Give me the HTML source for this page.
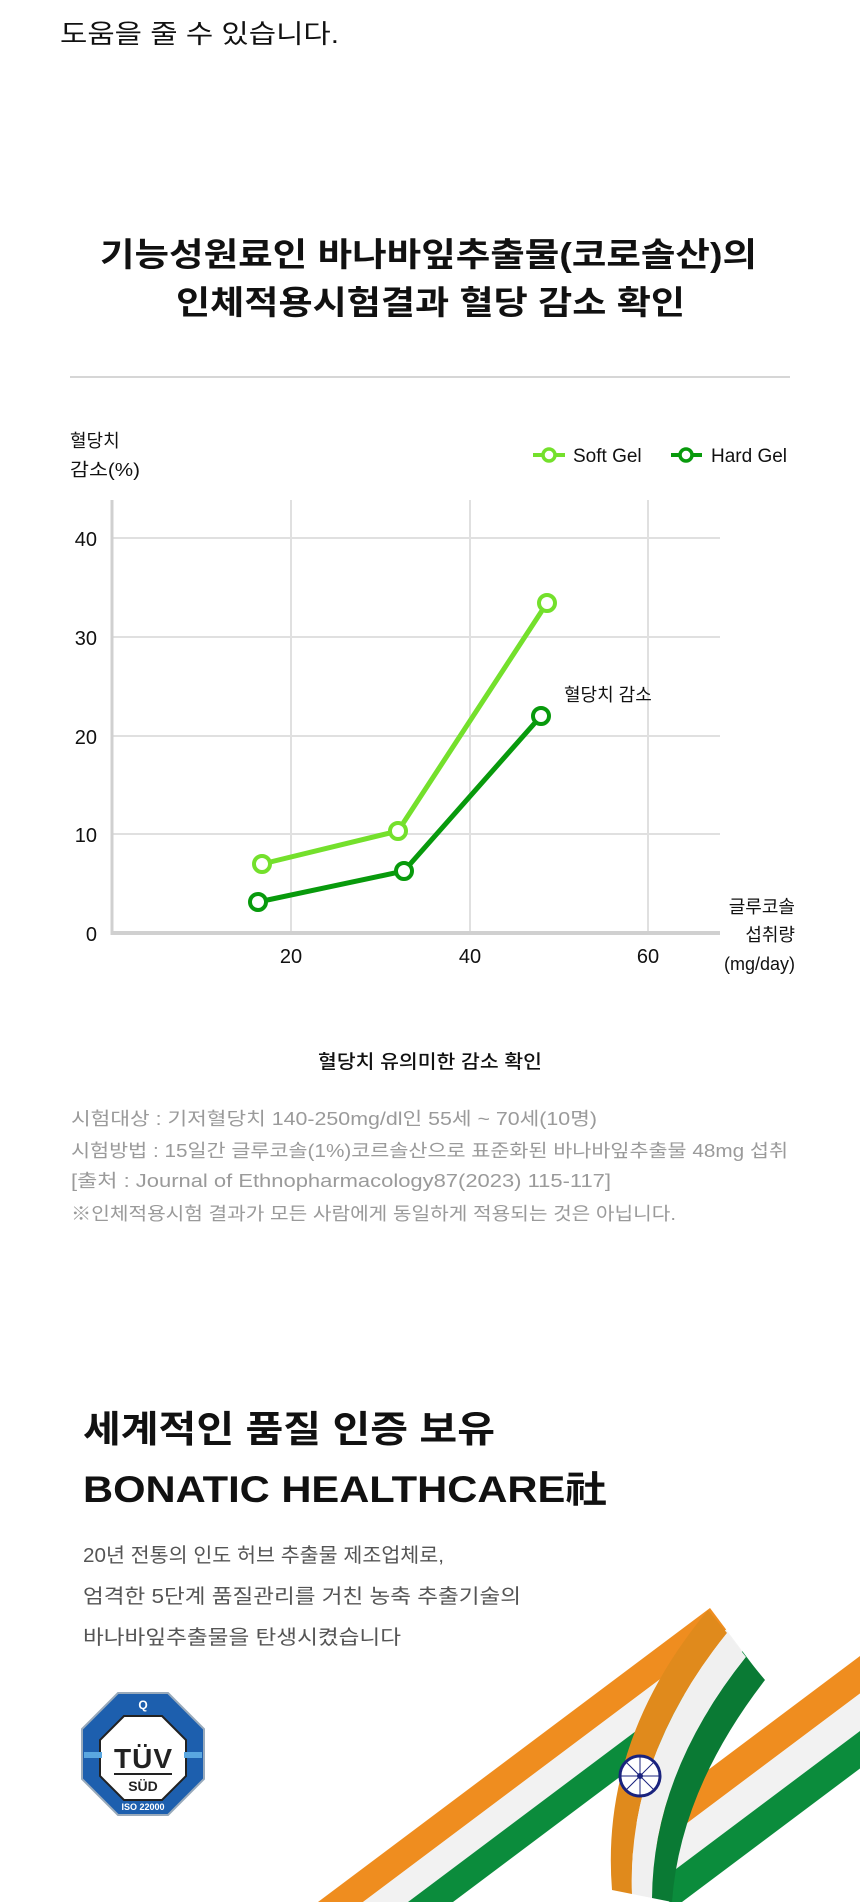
<!DOCTYPE html>
<html><head><meta charset="utf-8"><style>
html,body{margin:0;padding:0;background:#fff;overflow:hidden;}
svg{display:block;}
text{font-family:"Liberation Sans","Noto Sans CJK KR",sans-serif;}
</style></head><body>
<svg width="860" height="1902" viewBox="0 0 860 1902" xmlns="http://www.w3.org/2000/svg">
<text x="60" y="43" font-size="26" fill="#111" textLength="279" lengthAdjust="spacingAndGlyphs">도움을 줄 수 있습니다.</text>
<text x="100" y="266" font-size="33" font-weight="bold" fill="#111" textLength="657" lengthAdjust="spacingAndGlyphs">기능성원료인 바나바잎추출물(코로솔산)의</text>
<text x="176" y="314" font-size="33" font-weight="bold" fill="#111" textLength="509" lengthAdjust="spacingAndGlyphs">인체적용시험결과 혈당 감소 확인</text>
<rect x="70" y="376" width="720" height="2" fill="#d6d6d6"/>

<!-- chart -->
<text x="70" y="447" font-size="18" fill="#111">혈당치</text>
<text x="70" y="476" font-size="18" fill="#111" textLength="70" lengthAdjust="spacingAndGlyphs">감소(%)</text>
<g stroke="#e0e0e0" stroke-width="2">
<line x1="112" y1="538" x2="720" y2="538"/><line x1="112" y1="637" x2="720" y2="637"/>
<line x1="112" y1="736" x2="720" y2="736"/><line x1="112" y1="834" x2="720" y2="834"/>
<line x1="291" y1="500" x2="291" y2="933"/><line x1="470" y1="500" x2="470" y2="933"/><line x1="648" y1="500" x2="648" y2="933"/>
</g>
<line x1="112" y1="500" x2="112" y2="935" stroke="#d0d0d0" stroke-width="3"/>
<line x1="111" y1="933" x2="720" y2="933" stroke="#d0d0d0" stroke-width="4"/>
<g font-size="20" fill="#111" text-anchor="end">
<text x="97" y="546">40</text><text x="97" y="645">30</text><text x="97" y="744">20</text><text x="97" y="842">10</text><text x="97" y="941">0</text>
</g>
<g font-size="20" fill="#111" text-anchor="middle">
<text x="291" y="963">20</text><text x="470" y="963">40</text><text x="648" y="963">60</text>
</g>
<g font-size="18" fill="#111" text-anchor="end">
<text x="795" y="913">글루코솔</text><text x="795" y="941">섭취량</text><text x="795" y="970">(mg/day)</text>
</g>
<polyline points="262,864 398,831 547,603" fill="none" stroke="#74e02c" stroke-width="5"/>
<polyline points="258,902 404,871 541,716" fill="none" stroke="#089a0c" stroke-width="5"/>
<g fill="#fff" stroke="#74e02c" stroke-width="4">
<circle cx="262" cy="864" r="8"/><circle cx="398" cy="831" r="8"/><circle cx="547" cy="603" r="8"/>
</g>
<g fill="#fff" stroke="#089a0c" stroke-width="4">
<circle cx="258" cy="902" r="8"/><circle cx="404" cy="871" r="8"/><circle cx="541" cy="716" r="8"/>
</g>
<text x="564" y="701" font-size="18" fill="#111">혈당치 감소</text>
<line x1="533" y1="455" x2="565" y2="455" stroke="#74e02c" stroke-width="4"/>
<circle cx="549" cy="455" r="6" fill="#fff" stroke="#74e02c" stroke-width="3.5"/>
<text x="573" y="462" font-size="19" fill="#111">Soft Gel</text>
<line x1="671" y1="455" x2="702" y2="455" stroke="#089a0c" stroke-width="4"/>
<circle cx="686" cy="455" r="6" fill="#fff" stroke="#089a0c" stroke-width="3.5"/>
<text x="711" y="462" font-size="19" fill="#111">Hard Gel</text>

<text x="318" y="1068" font-size="19" fill="#111" font-weight="500" textLength="224" lengthAdjust="spacingAndGlyphs">혈당치 유의미한 감소 확인</text>
<g font-size="18" fill="#9a9a9a">
<text x="71" y="1125" textLength="526" lengthAdjust="spacingAndGlyphs">시험대상 : 기저혈당치 140-250mg/dl인 55세 ~ 70세(10명)</text>
<text x="71" y="1157" textLength="717" lengthAdjust="spacingAndGlyphs">시험방법 : 15일간 글루코솔(1%)코르솔산으로 표준화된 바나바잎추출물 48mg 섭취</text>
<text x="71" y="1187" textLength="540" lengthAdjust="spacingAndGlyphs">[출처 : Journal of Ethnopharmacology87(2023) 115-117]</text>
<text x="71" y="1220" textLength="605" lengthAdjust="spacingAndGlyphs">※인체적용시험 결과가 모든 사람에게 동일하게 적용되는 것은 아닙니다.</text>
</g>

<text x="83" y="1442" font-size="37" font-weight="bold" fill="#111" textLength="412" lengthAdjust="spacingAndGlyphs">세계적인 품질 인증 보유</text>
<text x="83" y="1502" font-size="37" font-weight="bold" fill="#111" textLength="524" lengthAdjust="spacingAndGlyphs">BONATIC HEALTHCARE社</text>
<g font-size="20" fill="#555">
<text x="83" y="1562" textLength="361" lengthAdjust="spacingAndGlyphs">20년 전통의 인도 허브 추출물 제조업체로,</text>
<text x="83" y="1603" textLength="438" lengthAdjust="spacingAndGlyphs">엄격한 5단계 품질관리를 거친 농축 추출기술의</text>
<text x="83" y="1644" textLength="318" lengthAdjust="spacingAndGlyphs">바나바잎추출물을 탄생시켰습니다</text>
</g>

<!-- TUV logo -->
<polygon points="118,1693 168,1693 204,1729 204,1779 168,1815 118,1815 82,1779 82,1729" fill="#1d5fae" stroke="#9ab" stroke-width="2"/>
<polygon points="124,1716 162,1716 186,1740 186,1776 162,1800 124,1800 100,1776 100,1740" fill="#fff" stroke="#222" stroke-width="2"/>
<rect x="84" y="1752" width="18" height="6" fill="#5aa7e0"/><rect x="184" y="1752" width="18" height="6" fill="#5aa7e0"/>
<text x="143" y="1709" font-size="12" fill="#fff" text-anchor="middle" font-weight="bold">Q</text>
<text x="143" y="1768" font-size="28" font-weight="bold" fill="#222" text-anchor="middle" textLength="58">TÜV</text>
<rect x="114" y="1773" width="58" height="2" fill="#222"/>
<text x="143" y="1791" font-size="14" font-weight="bold" fill="#222" text-anchor="middle">SÜD</text>
<text x="143" y="1810" font-size="9" font-weight="bold" fill="#fff" text-anchor="middle">ISO 22000</text>

<!-- Flag ribbon -->
<g transform="translate(318,1902) rotate(-36.87)">
<rect x="-40" y="0" width="530" height="27" fill="#ef8d1f"/>
<rect x="-40" y="27" width="530" height="27" fill="#f2f2f2"/>
<rect x="-40" y="54" width="530" height="27" fill="#0b8c3c"/>
</g>
<g transform="translate(620,1836) rotate(-36.87)">
<rect x="0" y="0" width="340" height="30" fill="#ef8d1f"/>
<rect x="0" y="30" width="340" height="30" fill="#f2f2f2"/>
<rect x="0" y="60" width="340" height="30" fill="#0b8c3c"/>
</g>
<path d="M708,1610 Q600,1740 612,1890 L632,1894 Q627,1757 727,1633 Z" fill="#e08a1c"/>
<path d="M727,1633 Q627,1757 632,1894 L652,1898 Q653,1773 746,1657 Z" fill="#f0f0f0"/>
<path d="M746,1657 Q653,1773 652,1898 L672,1902 Q680,1790 765,1680 Z" fill="#0a7a34"/>
<circle cx="640" cy="1776" r="20" fill="#fff" stroke="#1a237e" stroke-width="3"/>
<circle cx="640" cy="1776" r="3" fill="#1a237e"/>
<g stroke="#1a237e" stroke-width="1">
<line x1="620" y1="1776" x2="660" y2="1776"/><line x1="640" y1="1756" x2="640" y2="1796"/>
<line x1="626" y1="1762" x2="654" y2="1790"/><line x1="654" y1="1762" x2="626" y2="1790"/>
</g>
</svg>
</body></html>
